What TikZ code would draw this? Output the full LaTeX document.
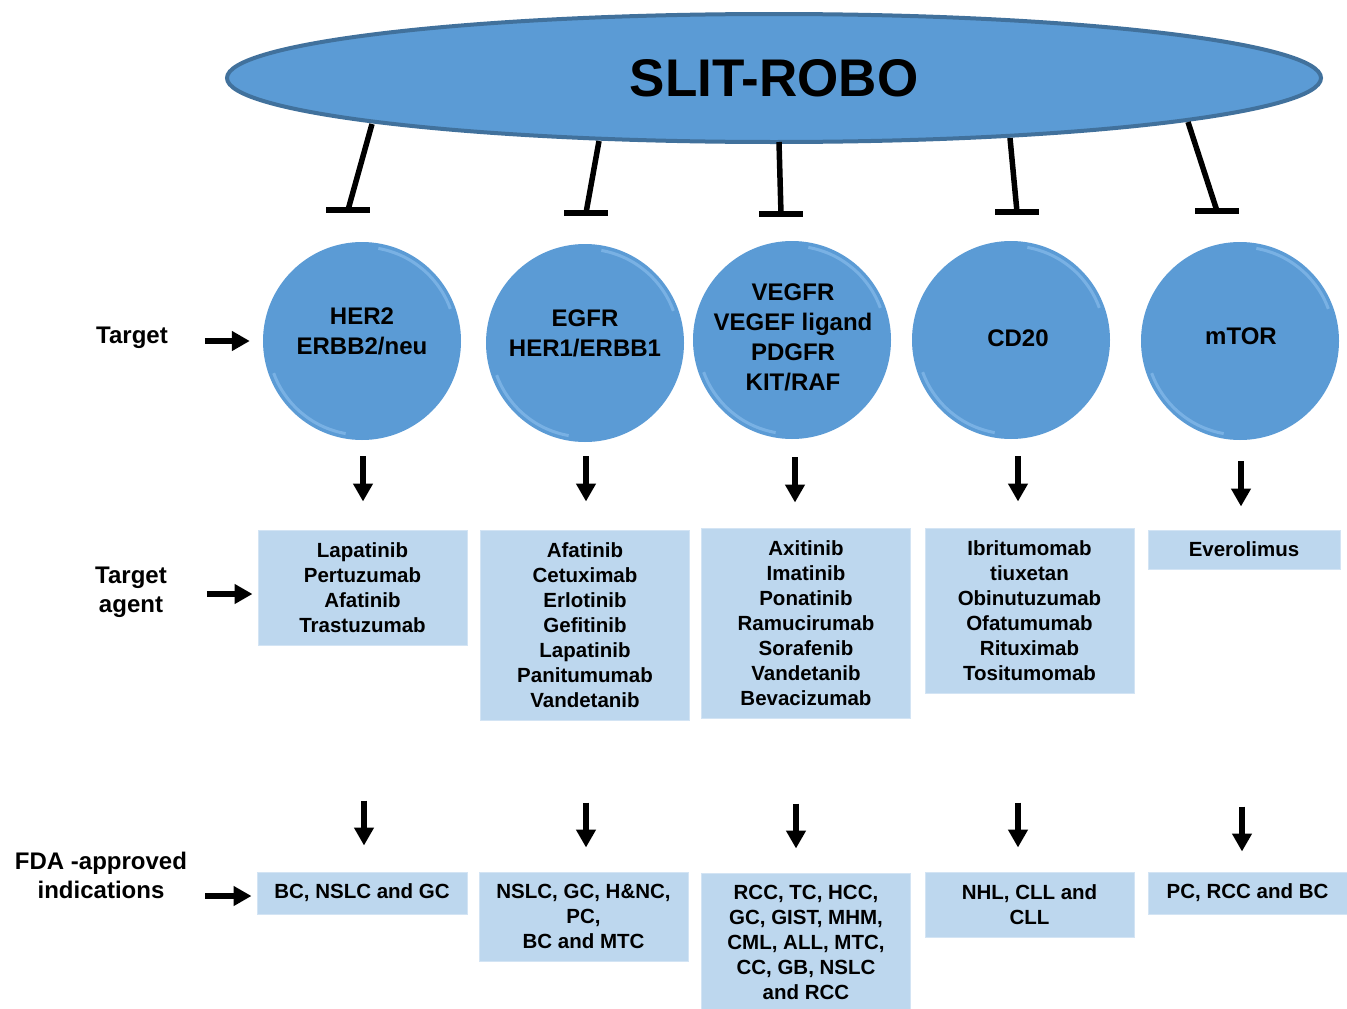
\documentclass[tikz,border=0pt]{standalone}
\usepackage{fontspec}
\setmainfont{Liberation Sans}
\usetikzlibrary{shapes.geometric,arrows.meta}
\definecolor{ellfill}{HTML}{5B9BD5}
\definecolor{elldraw}{HTML}{41719C}
\definecolor{circfill}{HTML}{5B9BD5}
\definecolor{circhi}{HTML}{8EC1EE}
\definecolor{boxfill}{HTML}{BDD7EE}
\definecolor{boxedge}{HTML}{D3E4F4}
\begin{document}
\begin{tikzpicture}[x=1pt,y=-1pt,
  every node/.style={font=\bfseries},
  ell/.style={ellipse,fill=ellfill,draw=elldraw,line width=4pt,minimum width=1094pt,minimum height=128pt,inner sep=0pt,font=\bfseries\fontsize{53}{60}\selectfont},
  circ/.style={circle,fill=circfill,minimum size=198pt,inner sep=0pt},
  ctext/.style={align=center,inner sep=0pt,font=\bfseries\fontsize{24}{30}\selectfont},
  boxnode/.style={rectangle,fill=boxfill,draw=boxedge,line width=1pt,minimum width=209pt,align=center,inner sep=0pt,font=\bfseries\fontsize{20.5}{25}\selectfont},
  lefttext/.style={align=center,inner sep=0pt,font=\bfseries\fontsize{24}{29}\selectfont},
  arr/.style={line width=6pt,-{Triangle[length=18pt,width=19pt]}},
  inhib/.style={line width=5.5pt},
  tbar/.style={line width=6pt}
]
\useasboundingbox (0,0) rectangle (1347,1009);
\fill[white] (0,0) rectangle (1347,1009);

% top ellipse
\node[ell] (ell) at (774,78) {SLIT-ROBO};

% target circles
\node[circ] (c1) at (362,341) {};
\node[circ] (c2) at (585,343) {};
\node[circ] (c3) at (792,340) {};
\node[circ] (c4) at (1011,340) {};
\node[circ] (c5) at (1240,341) {};
\foreach \c in {c1,c2,c3,c4,c5}{
  \draw[circhi,line width=3pt,opacity=0.6] (\c.center) ++(20:94pt) arc[start angle=20,end angle=80,radius=94pt];
  \draw[circhi,line width=3pt,opacity=0.6] (\c.center) ++(200:94pt) arc[start angle=200,end angle=260,radius=94pt];
}
\node[ctext] (t1) at (362,331) {HER2\\ERBB2/neu};
\node[ctext] (t2) at (585,333) {EGFR\\HER1/ERBB1};
\node[ctext] (t3) at (793,337) {VEGFR\\VEGEF ligand\\PDGFR\\KIT/RAF};
\node[ctext] (t4) at (1018,338) {CD20};
\node[ctext] (t5) at (1241,336) {mTOR};

% inhibition connectors (start on the ellipse rim, end at horizontal bars)
\coordinate (s1) at (372,124);
\coordinate (s2) at (599,141);
\coordinate (s3) at (779,142);
\coordinate (s4) at (1010,138);
\coordinate (s5) at (1188,122);
\coordinate (b1) at (348,210);
\coordinate (b2) at (586,213);
\coordinate (b3) at (781,214);
\coordinate (b4) at (1017,212);
\coordinate (b5) at (1217,211);
\foreach \i in {1,...,5}{
  \draw[inhib] (s\i) -- (b\i);
  \draw[tbar] ([xshift=-22pt]b\i) -- ([xshift=22pt]b\i);
}

% agent boxes
\node[boxnode,minimum height=115pt] (a1) at (362.5,587.5) {Lapatinib\\Pertuzumab\\Afatinib\\Trastuzumab};
\node[boxnode,minimum height=190pt] (a2) at (585,625) {Afatinib\\Cetuximab\\Erlotinib\\Gefitinib\\Lapatinib\\Panitumumab\\Vandetanib};
\node[boxnode,minimum height=190pt] (a3) at (806,623) {Axitinib\\Imatinib\\Ponatinib\\Ramucirumab\\Sorafenib\\Vandetanib\\Bevacizumab};
\node[boxnode,minimum height=165pt] (a4) at (1029.5,610.5) {Ibritumomab\\tiuxetan\\Obinutuzumab\\Ofatumumab\\Rituximab\\Tositumomab};
\node[boxnode,minimum width=192pt,minimum height=39pt] (a5) at (1244,549.5) {Everolimus};

% indication boxes
\node[boxnode,minimum width=210pt,minimum height=42pt] (i1) at (362,893) {BC, NSLC and GC};
\node[boxnode,minimum height=89pt] (i2) at (583.5,916.5) {NSLC, GC, H\&NC,\\PC,\\BC and MTC};
\node[boxnode,minimum height=138pt] (i3) at (806,942) {RCC, TC, HCC,\\GC, GIST, MHM,\\CML, ALL, MTC,\\CC, GB, NSLC\\and RCC};
\node[boxnode,minimum height=65pt] (i4) at (1029.5,904.5) {NHL, CLL and\\CLL};
\node[boxnode,minimum width=199pt,minimum height=42pt] (i5) at (1247.5,893) {PC, RCC and BC};

% circle -> agent arrows
\draw[arr,shorten <=16pt,shorten >=28pt] ([xshift=1pt]c1.south) -- ([xshift=1pt]c1.south |- a1.north);
\draw[arr,shorten <=14pt,shorten >=28pt] ([xshift=1pt]c2.south) -- ([xshift=1pt]c2.south |- a2.north);
\draw[arr,shorten <=18pt,shorten >=25pt] ([xshift=3pt]c3.south) -- ([xshift=3pt]c3.south |- a3.north);
\draw[arr,shorten <=17pt,shorten >=26pt] ([xshift=7pt]c4.south) -- ([xshift=7pt]c4.south |- a4.north);
\draw[arr,shorten <=21pt,shorten >=23pt] ([xshift=1pt]c5.south) -- ([xshift=1pt]c5.south |- a5.north);

% agent -> indication arrows
\draw[arr,shorten <=155pt,shorten >=26pt] ([xshift=1.5pt]a1.south) -- ([xshift=1.5pt]a1.south |- i1.north);
\draw[arr,shorten <=82pt,shorten >=24pt] ([xshift=1pt]a2.south) -- ([xshift=1pt]a2.south |- i2.north);
\draw[arr,shorten <=85pt,shorten >=24pt] ([xshift=-10pt]a3.south) -- ([xshift=-10pt]a3.south |- i3.north);
\draw[arr,shorten <=109pt,shorten >=24pt] ([xshift=-11.5pt]a4.south) -- ([xshift=-11.5pt]a4.south |- i4.north);
\draw[arr,shorten <=237pt,shorten >=20pt] ([xshift=-2pt]a5.south) -- ([xshift=-2pt]a5.south |- i5.north);

% left labels
\node[lefttext] (l1) at (132,338) {Target};
\node[lefttext] (l2) at (131,592) {Target\\agent};
\node[lefttext] (l3) at (101,875) {FDA -approved\\indications};
\draw[arr,shorten <=37pt,shorten >=13pt] (l1.east |- c1.west) -- (c1.west);
\draw[arr,shorten <=40pt,shorten >=5pt] (l2.east |- 0,594) -- (a1.west |- 0,594);
\draw[arr,shorten <=18pt,shorten >=5pt] (l3.east |- 0,896) -- (i1.west |- 0,896);
\end{tikzpicture}
\end{document}
